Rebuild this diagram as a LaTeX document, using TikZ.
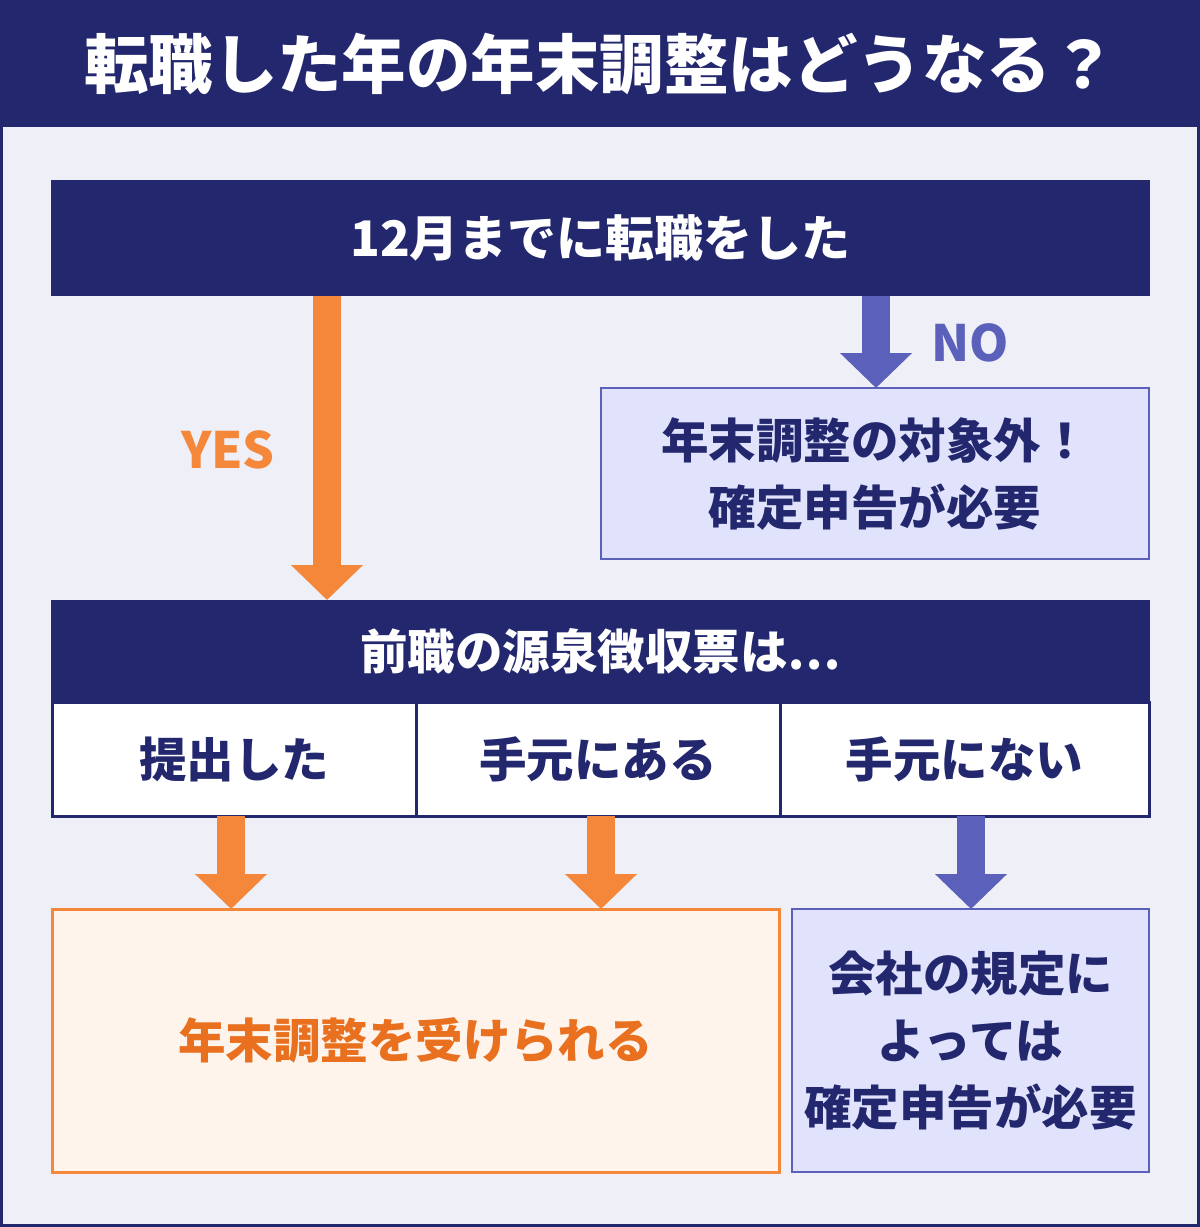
\documentclass[tikz,border=0pt]{standalone}
\usepackage{fontspec}
\setmainfont{Noto Sans CJK JP}
\usetikzlibrary{arrows.meta}
\definecolor{navy}{HTML}{22276E}
\definecolor{bgl}{HTML}{EEEFF7}
\definecolor{orarrow}{HTML}{F5873A}
\definecolor{ortext}{HTML}{E8701F}
\definecolor{orfill}{HTML}{FFF4EC}
\definecolor{blarrow}{HTML}{5B60BA}
\definecolor{blfill}{HTML}{E0E3FB}
\tikzset{
  box/.style={rectangle, anchor=north west, inner sep=0pt, outer sep=0pt, align=center,
    font=\fontsize{47.5}{67}\selectfont\bfseries},
  navybox/.style={box, fill=navy, text=white},
  cellbox/.style={box, fill=white, draw=navy, line width=3pt, text=navy},
  bluebox/.style={box, fill=blfill, draw=blarrow, line width=2.5pt, text=navy},
  orangebox/.style={box, fill=orfill, draw=orarrow, line width=3pt, text=ortext},
  fatarrow/.style={line width=28pt, -{Triangle[width=70pt,length=35pt]}},
  oarrow/.style={fatarrow, orarrow},
  barrow/.style={fatarrow, blarrow},
  lbl/.style={font=\fontsize{50}{56}\selectfont\bfseries, inner sep=0pt},
}
\begin{document}
\begin{tikzpicture}[x=1pt,y=-1pt]
\useasboundingbox (0,0) rectangle (1200,1227);
\fill[navy] (0,0) rectangle (1200,1227);
\fill[bgl] (3,127) rectangle (1197,1224);
\node[font=\fontsize{64.5}{70}\selectfont\bfseries, text=white, inner sep=0pt] (title) at (600,64) {転職した年の年末調整はどうなる？};
% top question
\node[navybox, minimum width=1099pt, minimum height=116pt, font=\fontsize{49}{60}\selectfont\bfseries] (q1) at (51,180) {12月までに転職をした};
% NO box
\node[bluebox, minimum width=548pt, minimum height=171pt] (no) at (601,388) {年末調整の対象外！\\確定申告が必要};
% middle header
\node[navybox, minimum width=1099pt, minimum height=103pt] (q2) at (51,600) {前職の源泉徴収票は…};
% cells
\node[cellbox, minimum width=364pt, minimum height=114pt] (c1) at (52,702) {提出した};
\node[cellbox, minimum width=364pt, minimum height=114pt] (c2) at (416,702) {手元にある};
\node[cellbox, minimum width=369pt, minimum height=114pt] (c3) at (780,702) {手元にない};
% result boxes
\node[orangebox, minimum width=727pt, minimum height=263pt] (r1) at (52,909) {年末調整を受けられる};
\node[bluebox, minimum width=357pt, minimum height=263pt] (r2) at (792,909) {会社の規定に\\よっては\\確定申告が必要};
% arrow columns
\coordinate (xY) at (327,0);
\coordinate (xN) at (876,0);
\coordinate (x1) at (231,0);
\coordinate (x2) at (601,0);
\coordinate (x3) at (971,0);
\draw[oarrow] (q1.south -| xY) -- (q2.north -| xY);
\draw[barrow] (q1.south -| xN) -- (no.north -| xN);
\draw[oarrow] (c1.south -| x1) -- (r1.north -| x1);
\draw[oarrow] (c2.south -| x2) -- (r1.north -| x2);
\draw[barrow] (c3.south -| x3) -- (r2.north -| x3);
% labels
\node[lbl, text=orarrow] (yes) at (228,450) {YES};
\node[lbl, text=blarrow] (nolbl) at (970,343) {NO};
\end{tikzpicture}
\end{document}
